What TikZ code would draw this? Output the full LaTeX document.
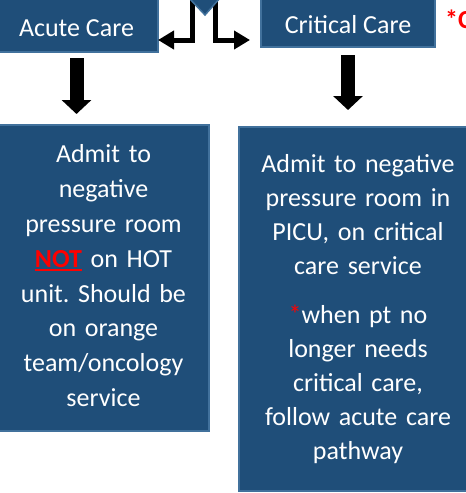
\documentclass[tikz,border=0pt]{standalone}
\usepackage{fontspec}
\setmainfont{Carlito}
\usetikzlibrary{arrows.meta}
\definecolor{boxfill}{RGB}{31,78,121}
\definecolor{boxline}{RGB}{65,113,156}
\definecolor{alertred}{RGB}{255,0,0}
\newcommand\redul[1]{\setbox0\hbox{#1}\rlap{\rule[-3.2pt]{\wd0}{1.6pt}}\box0}
\frenchspacing
\begin{document}
\begin{tikzpicture}[x=1pt,y=-1pt,
  box/.style={draw=boxline, fill=boxfill, line width=1.5pt, inner sep=0pt, outer sep=0pt, text=white, font=\fontsize{26}{31}\selectfont},
  conn/.style={line width=5pt, -{Triangle[length=16pt,width=18pt]}},
  downarr/.style={line width=14pt, -{Triangle[length=14pt,width=29pt]}}]
\useasboundingbox (0,0) rectangle (466,493);
\clip (0,0) rectangle (466,493);
% header boxes
\node[box, minimum width=163pt, minimum height=57pt, text height=25pt, text depth=0pt] (acute) at (76.5,23.5) {Acute Care};
\node[box, minimum width=174pt, minimum height=52pt, text height=24pt, text depth=0pt] (crit) at (348,21) {Critical Care};
\node[anchor=base west, inner sep=0pt, text=alertred, font=\fontsize{26}{31}\selectfont\bfseries] (note) at (445,28.5) {*C};
% body boxes
\node[box, minimum width=211pt, minimum height=306pt, text width=200pt, align=center, font=\fontsize{26}{34.8}\selectfont] (lbox) at (103.5,278) {\rule{0pt}{20pt}Admit to\\negative\\pressure room\\\textcolor{alertred}{\redul{\textbf{NOT}}} on HOT\\unit. Should be\\on orange\\team/oncology\\service\rule[-6.6pt]{0pt}{6.6pt}};
\node[box, minimum width=238pt, minimum height=364pt, text width=226pt, align=center, font=\fontsize{26}{34}\selectfont] (rbox) at (358,309) {\rule{0pt}{20pt}Admit to negative\\pressure room in\\PICU, on critical\\care service\\[14.4pt]\textcolor{alertred}{*}when pt no\\longer needs\\critical care,\\follow acute care\\pathway\rule[-6.4pt]{0pt}{6.4pt}};
% down arrows
\draw[downarr, shorten <=6pt, shorten >=11pt] (acute.south) -- (acute.south |- lbox.north);
\draw[downarr, shorten <=8pt, shorten >=17pt] (crit.south) -- (crit.south |- rbox.north);
% elbow connectors from the source shape
\coordinate (srcl) at (192.5,0);
\coordinate (srcr) at (215.5,0);
\coordinate (elbow) at (0,40);
\draw[conn] (srcl) |- (acute.east |- elbow);
\draw[conn, shorten >=11pt] (srcr) |- (crit.west |- elbow);
\filldraw[draw=boxline, fill=boxfill, line width=1.5pt] (189,-2) -- (220,-2) -- (205,15) -- cycle;
\end{tikzpicture}
\end{document}
